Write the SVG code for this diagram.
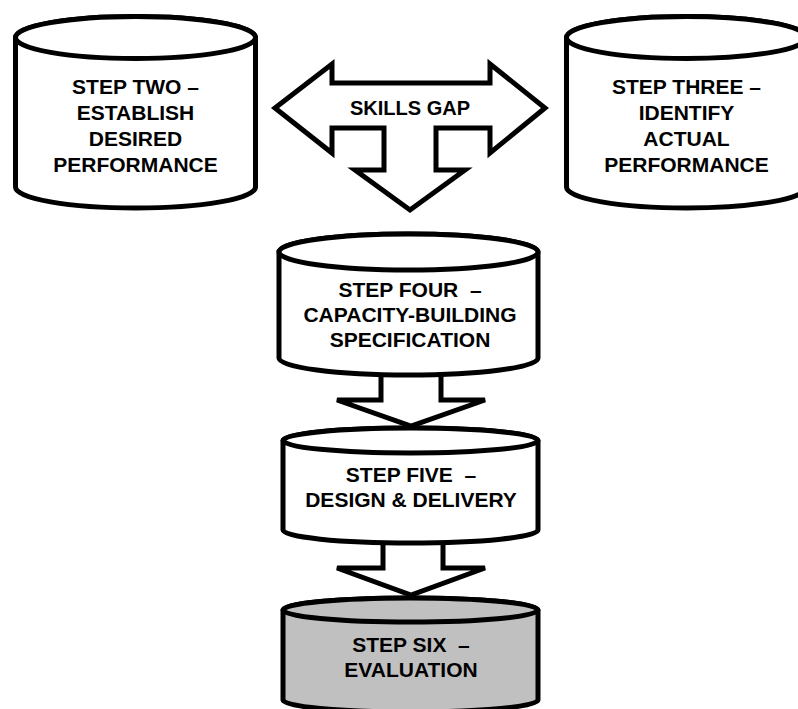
<svg xmlns="http://www.w3.org/2000/svg" width="798" height="709" viewBox="0 0 798 709">
  <style>
    .shape { fill: #ffffff; stroke: #000000; stroke-width: 5; stroke-linejoin: miter; }
    .grey { fill: #c0c0c0; }
    .label { font-family: "Liberation Sans", Arial, sans-serif; font-weight: bold; font-size: 21px; fill: #000000; text-anchor: middle; white-space: pre; }
  </style>

  <!-- connectors -->
  <g id="connectors">
    <!-- skills gap: double arrow with a downward branch -->
    <path id="skills-gap-arrow" class="shape" d="M275,108 L332,64 L332,83 L490,83 L490,64 L545,108 L490,153 L490,128 L436,128 L436,170 L465,170 L410,210 L355,170 L384,170 L384,128 L332,128 L332,153 Z"/>
    <!-- step four to step five -->
    <path id="arrow-4-5" class="shape" d="M381,360 L441,360 L441,400 L485,400 L411,426 L337,400 L381,400 Z"/>
    <!-- step five to step six -->
    <path id="arrow-5-6" class="shape" d="M383,528 L443,528 L443,568 L485,568 L411,595 L337,568 L383,568 Z"/>
  </g>

  <!-- step two -->
  <g id="step-two">
    <path class="shape" d="M15.5,37.5 L15.5,187 A120,21 0 0 0 255.5,187 L255.5,37.5 A120,21 0 0 0 15.5,37.5 Z"/>
    <ellipse class="shape" cx="135.5" cy="37.5" rx="120" ry="21"/>
    <text class="label" x="135.5" y="94">STEP TWO –</text>
    <text class="label" x="135.5" y="120">ESTABLISH</text>
    <text class="label" x="135.5" y="146">DESIRED</text>
    <text class="label" x="135.5" y="172">PERFORMANCE</text>
  </g>

  <!-- step three -->
  <g id="step-three">
    <path class="shape" d="M566.5,37.5 L566.5,187 A120,21 0 0 0 806.5,187 L806.5,37.5 A120,21 0 0 0 566.5,37.5 Z"/>
    <ellipse class="shape" cx="686.5" cy="37.5" rx="120" ry="21"/>
    <text class="label" x="686.5" y="94">STEP THREE –</text>
    <text class="label" x="686.5" y="120">IDENTIFY</text>
    <text class="label" x="686.5" y="146">ACTUAL</text>
    <text class="label" x="686.5" y="172">PERFORMANCE</text>
  </g>

  <!-- skills gap label -->
  <g id="skills-gap">
    <text class="label" x="410" y="115" style="font-size:20px">SKILLS GAP</text>
  </g>

  <!-- step four -->
  <g id="step-four">
    <path class="shape" d="M279,252 L279,358 A129.5,17 0 0 0 538,358 L538,252 A129.5,18 0 0 0 279,252 Z"/>
    <ellipse class="shape" cx="408.5" cy="252" rx="129.5" ry="18"/>
    <text class="label" x="410" y="297" xml:space="preserve">STEP FOUR  –</text>
    <text class="label" x="410" y="322">CAPACITY-BUILDING</text>
    <text class="label" x="410" y="347">SPECIFICATION</text>
  </g>

  <!-- step five -->
  <g id="step-five">
    <path class="shape" d="M283,440.5 L283,530 A127.5,13 0 0 0 538,530 L538,440.5 A127.5,12.5 0 0 0 283,440.5 Z"/>
    <ellipse class="shape" cx="410.5" cy="440.5" rx="127.5" ry="12.5"/>
    <text class="label" x="411" y="482" xml:space="preserve">STEP FIVE  –</text>
    <text class="label" x="411" y="507">DESIGN &amp; DELIVERY</text>
  </g>

  <!-- step six -->
  <g id="step-six">
    <path class="shape grey" d="M283,610 L283,700 A127.5,12 0 0 0 538,700 L538,610 A127.5,12 0 0 0 283,610 Z"/>
    <ellipse class="shape grey" cx="410.5" cy="610" rx="127.5" ry="12"/>
    <text class="label" x="411" y="652" xml:space="preserve">STEP SIX  –</text>
    <text class="label" x="411" y="677">EVALUATION</text>
  </g>
</svg>
